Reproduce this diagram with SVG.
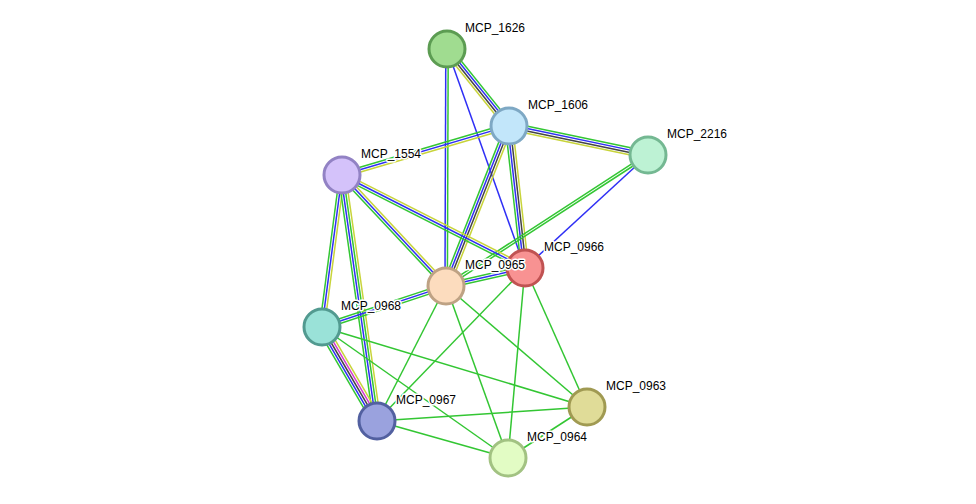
<svg xmlns="http://www.w3.org/2000/svg" width="976" height="504" viewBox="0 0 976 504">
<style>
line{stroke-width:1.5;fill:none}
.g{stroke:#33c633}.b{stroke:#2f2ff5}.y{stroke:#c8d43a}.k{stroke:#444}.m{stroke:#d43ad4}
circle{stroke-width:3}
text{font-family:"Liberation Sans",Arial,sans-serif;font-size:12px;fill:#000;paint-order:stroke;stroke:#fff;stroke-width:3px;stroke-linejoin:round}
</style>
<rect width="976" height="504" fill="#fff"/>
<g id="edges">
<g transform="translate(447,49) rotate(51.2)"><line class="g" x1="0" y1="-3.6" x2="99" y2="-3.6"/><line class="b" x1="0" y1="-1.2" x2="99" y2="-1.2"/><line class="k" x1="0" y1="1.2" x2="99" y2="1.2"/><line class="y" x1="0" y1="3.6" x2="99" y2="3.6"/></g>
<g transform="translate(447,49) rotate(90.2)"><line class="g" x1="0" y1="-1.2" x2="237" y2="-1.2"/><line class="b" x1="0" y1="1.2" x2="237" y2="1.2"/></g>
<g transform="translate(447,49) rotate(70.4)"><line class="b" x1="0" y1="0" x2="232" y2="0"/></g>
<g transform="translate(509,126) rotate(11.8)"><line class="g" x1="0" y1="-3.6" x2="142" y2="-3.6"/><line class="b" x1="0" y1="-1.2" x2="142" y2="-1.2"/><line class="k" x1="0" y1="1.2" x2="142" y2="1.2"/><line class="y" x1="0" y1="3.6" x2="142" y2="3.6"/></g>
<g transform="translate(342,175) rotate(-16.4)"><line class="g" x1="0" y1="-2.4" x2="174" y2="-2.4"/><line class="b" x1="0" y1="0" x2="174" y2="0"/><line class="y" x1="0" y1="2.4" x2="174" y2="2.4"/></g>
<g transform="translate(446,286) rotate(-68.5)"><line class="g" x1="0" y1="-3.6" x2="172" y2="-3.6"/><line class="b" x1="0" y1="-1.2" x2="172" y2="-1.2"/><line class="k" x1="0" y1="1.2" x2="172" y2="1.2"/><line class="y" x1="0" y1="3.6" x2="172" y2="3.6"/></g>
<g transform="translate(509,126) rotate(83.6)"><line class="y" x1="0" y1="-3.6" x2="143" y2="-3.6"/><line class="k" x1="0" y1="-1.2" x2="143" y2="-1.2"/><line class="b" x1="0" y1="1.2" x2="143" y2="1.2"/><line class="g" x1="0" y1="3.6" x2="143" y2="3.6"/></g>
<g transform="translate(525,268) rotate(-42.6)"><line class="b" x1="0" y1="0" x2="167" y2="0"/></g>
<g transform="translate(446,286) rotate(-33)"><line class="g" x1="0" y1="-1.2" x2="241" y2="-1.2"/><line class="g" x1="0" y1="1.2" x2="241" y2="1.2"/></g>
<g transform="translate(342,175) rotate(26.9)"><line class="y" x1="0" y1="-2.4" x2="205" y2="-2.4"/><line class="b" x1="0" y1="0" x2="205" y2="0"/><line class="g" x1="0" y1="2.4" x2="205" y2="2.4"/></g>
<g transform="translate(342,175) rotate(46.9)"><line class="y" x1="0" y1="-2.4" x2="152" y2="-2.4"/><line class="b" x1="0" y1="0" x2="152" y2="0"/><line class="g" x1="0" y1="2.4" x2="152" y2="2.4"/></g>
<g transform="translate(342,175) rotate(97.5)"><line class="y" x1="0" y1="-2.4" x2="153" y2="-2.4"/><line class="b" x1="0" y1="0" x2="153" y2="0"/><line class="g" x1="0" y1="2.4" x2="153" y2="2.4"/></g>
<g transform="translate(342,175) rotate(81.9)"><line class="y" x1="0" y1="-3.6" x2="248" y2="-3.6"/><line class="g" x1="0" y1="-1.2" x2="248" y2="-1.2"/><line class="b" x1="0" y1="1.2" x2="248" y2="1.2"/><line class="g" x1="0" y1="3.6" x2="248" y2="3.6"/></g>
<g transform="translate(446,286) rotate(-12.8)"><line class="g" x1="0" y1="-2.4" x2="81" y2="-2.4"/><line class="b" x1="0" y1="0" x2="81" y2="0"/><line class="g" x1="0" y1="2.4" x2="81" y2="2.4"/></g>
<g transform="translate(322,327) rotate(-18.3)"><line class="g" x1="0" y1="-2.4" x2="131" y2="-2.4"/><line class="b" x1="0" y1="0" x2="131" y2="0"/><line class="g" x1="0" y1="2.4" x2="131" y2="2.4"/></g>
<g transform="translate(322,327) rotate(59.7)"><line class="y" x1="0" y1="-4.8" x2="109" y2="-4.8"/><line class="m" x1="0" y1="-2.4" x2="109" y2="-2.4"/><line class="k" x1="0" y1="0" x2="109" y2="0"/><line class="b" x1="0" y1="2.4" x2="109" y2="2.4"/><line class="g" x1="0" y1="4.8" x2="109" y2="4.8"/></g>
<line class="g" x1="446" y1="286" x2="377" y2="421"/>
<line class="g" x1="446" y1="286" x2="508" y2="458"/>
<line class="g" x1="446" y1="286" x2="587" y2="407"/>
<line class="g" x1="525" y1="268" x2="377" y2="421"/>
<line class="g" x1="525" y1="268" x2="508" y2="458"/>
<line class="g" x1="525" y1="268" x2="587" y2="407"/>
<line class="g" x1="322" y1="327" x2="587" y2="407"/>
<line class="g" x1="322" y1="327" x2="508" y2="458"/>
<line class="g" x1="377" y1="421" x2="587" y2="407"/>
<line class="g" x1="377" y1="421" x2="508" y2="458"/>
<line class="g" x1="508" y1="458" x2="587" y2="407"/>
</g>
<g id="MCP_1626"><circle cx="447" cy="49" r="18" fill="#a0dc90" stroke="#5c9c52"/><text x="465" y="32">MCP_1626</text></g>
<g id="MCP_1606"><circle cx="509" cy="126" r="18" fill="#c2e6fa" stroke="#7ea8c4"/><text x="528" y="109">MCP_1606</text></g>
<g id="MCP_2216"><circle cx="648" cy="155" r="18" fill="#bdf2d4" stroke="#74b892"/><text x="667" y="138">MCP_2216</text></g>
<g id="MCP_1554"><circle cx="342" cy="175" r="18" fill="#d4c2fa" stroke="#9282c4"/><text x="361" y="158">MCP_1554</text></g>
<g id="MCP_0966"><circle cx="525" cy="268" r="18" fill="#f89292" stroke="#c05252"/><text x="544" y="251">MCP_0966</text></g>
<g id="MCP_0965"><circle cx="446" cy="286" r="18" fill="#fcdcbe" stroke="#bea284"/><text x="465" y="269">MCP_0965</text></g>
<g id="MCP_0968"><circle cx="322" cy="327" r="18" fill="#9ae2d8" stroke="#529a90"/><text x="341" y="310">MCP_0968</text></g>
<g id="MCP_0967"><circle cx="377" cy="421" r="18" fill="#9aa2de" stroke="#5260a0"/><text x="396" y="404">MCP_0967</text></g>
<g id="MCP_0963"><circle cx="587" cy="407" r="18" fill="#e0dc98" stroke="#a09a52"/><text x="606" y="390">MCP_0963</text></g>
<g id="MCP_0964"><circle cx="508" cy="458" r="18" fill="#e2fcc4" stroke="#a2c282"/><text x="527" y="441">MCP_0964</text></g>
</svg>
